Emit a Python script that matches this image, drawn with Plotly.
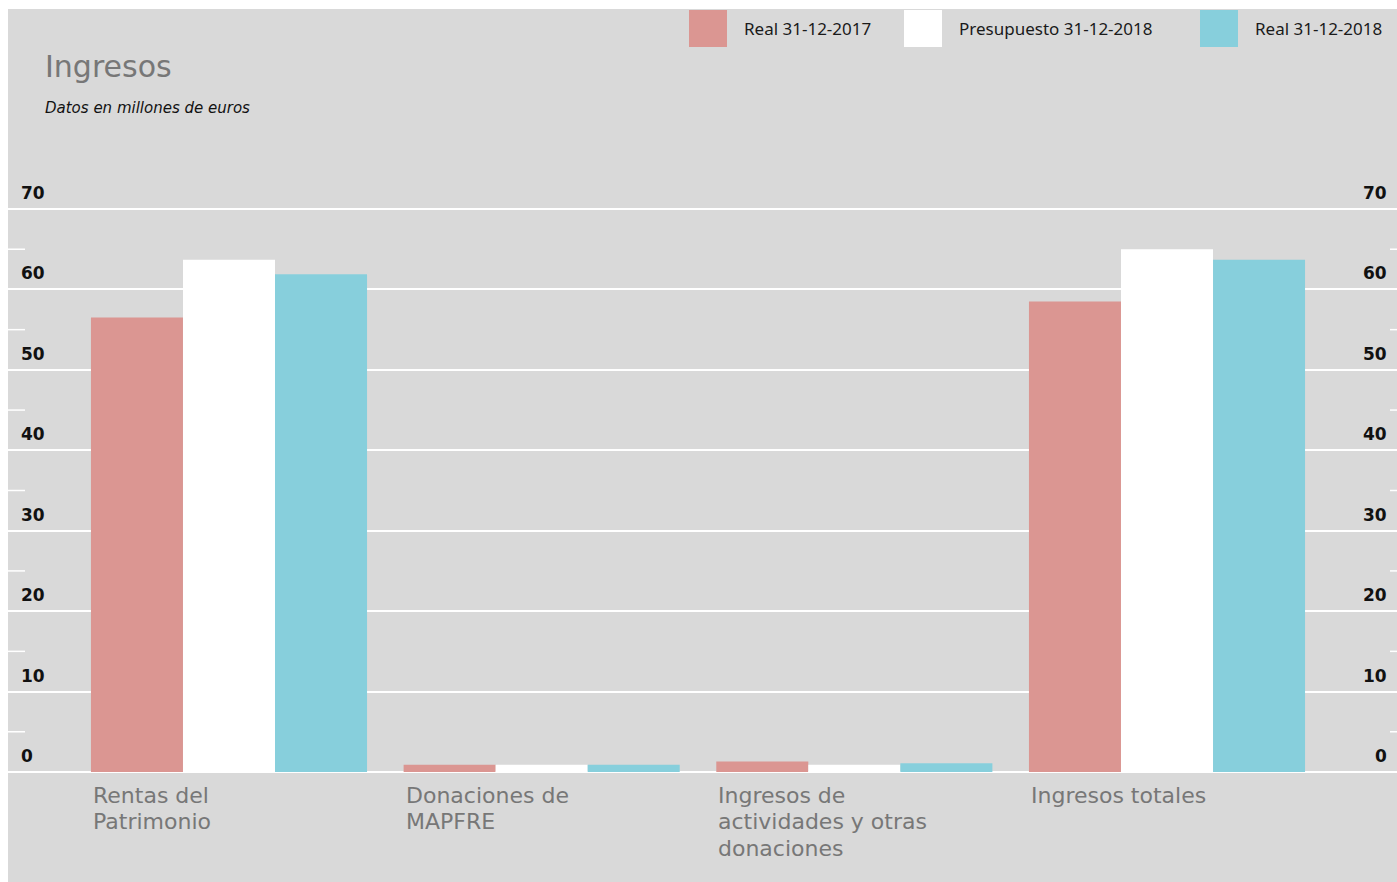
import plotly.graph_objects as go

categories = ["Rentas del<br>Patrimonio", "Donaciones de<br>MAPFRE",
              "Ingresos de<br>actividades y otras<br>donaciones", "Ingresos totales"]
series_names = ["Real 31-12-2017", "Presupuesto 31-12-2018", "Real 31-12-2018"]
real_2017 = [56.5, 0.9, 1.3, 58.5]
presupuesto_2018 = [63.7, 0.9, 0.9, 65.0]
real_2018 = [61.9, 0.9, 1.1, 63.7]
tick_values = [0, 10, 20, 30, 40, 50, 60, 70]
minor_values = [5, 15, 25, 35, 45, 55, 65]

colors = ["#db9692", "#ffffff", "#87cfdc"]
values = [real_2017, presupuesto_2018, real_2018]

FONT = "Noto Sans"
FONT2 = "DejaVu Sans"
W, H = 1397, 882
ML, MT = 8, 9
PW, PH = W - ML, H - MT

def px(x):
    return (x - ML) / PW

def py(y):
    return (H - y) / PH

x_idx = list(range(len(categories)))

fig = go.Figure()
for name, vals, col in zip(series_names, values, colors):
    fig.add_trace(go.Bar(x=x_idx, y=vals, name=name, marker=dict(color=col, line=dict(width=0)),
                         showlegend=False, hoverinfo="y+name"))

annotations = []
shapes = []

# title & subtitle
annotations.append(dict(text="Ingresos", xref="paper", yref="paper", x=px(43), y=py(66),
                        xanchor="left", yanchor="middle", showarrow=False,
                        font=dict(family=FONT2, size=30, color="#777777")))
annotations.append(dict(text="<i>Datos en millones de euros</i>", xref="paper", yref="paper",
                        x=px(43), y=py(108), xanchor="left", yanchor="middle", showarrow=False,
                        font=dict(family=FONT2, size=15, color="#111111")))

# legend
legend_x = [689, 904, 1200]
for lx, name, col in zip(legend_x, series_names, colors):
    shapes.append(dict(type="rect", xref="paper", yref="paper", x0=px(lx), x1=px(lx + 38),
                       y0=py(47), y1=py(10), fillcolor=col, line=dict(width=0), layer="above"))
    annotations.append(dict(text=name, xref="paper", yref="paper", x=px(lx + 53), y=py(28.5),
                            xanchor="left", yanchor="middle", showarrow=False,
                            font=dict(family=FONT, size=17, color="#1a1a1a")))

# tick labels (left and right)
for v in tick_values:
    annotations.append(dict(text="<b>%d</b>" % v, xref="paper", yref="y", x=px(19), y=v,
                            xanchor="left", yanchor="middle", yshift=16, showarrow=False,
                            font=dict(family=FONT2, size=17, color="#111111")))
    annotations.append(dict(text="<b>%d</b>" % v, xref="paper", yref="y", x=px(1389), y=v,
                            xanchor="right", yanchor="middle", yshift=16, showarrow=False,
                            font=dict(family=FONT2, size=17, color="#111111")))

# minor tick marks
for v in minor_values:
    shapes.append(dict(type="line", xref="paper", yref="y", x0=0, x1=px(25), y0=v, y1=v,
                       line=dict(color="white", width=1.5)))
    shapes.append(dict(type="line", xref="paper", yref="y", x0=px(1390), x1=1, y0=v, y1=v,
                       line=dict(color="white", width=1.5)))

# category labels (one annotation per line for tight line spacing)
for i, c in enumerate(categories):
    for j, line in enumerate(c.split("<br>")):
        annotations.append(dict(text=line, xref="x", yref="paper", x=i - 0.441, y=py(795 + 26.5 * j),
                                xanchor="left", yanchor="middle", align="left", showarrow=False,
                                font=dict(family=FONT2, size=22, color="#777777")))

fig.update_layout(
    width=W, height=H,
    margin=dict(l=ML, r=0, t=MT, b=0, pad=0),
    paper_bgcolor="white", plot_bgcolor="#d9d9d9",
    barmode="group", bargap=0.117, bargroupgap=0,
    font=dict(family=FONT),
    xaxis=dict(range=[-0.7068, 3.7356], showgrid=False, zeroline=False, showticklabels=False,
               ticks="", fixedrange=True),
    yaxis=dict(range=[-13.68, 94.87], tickvals=tick_values, showticklabels=False,
               showgrid=True, gridcolor="white", gridwidth=1.5, zeroline=True,
               zerolinecolor="white", zerolinewidth=2, ticks="", fixedrange=True),
    annotations=annotations, shapes=shapes,
)

fig.write_html("out.html", config={"displayModeBar": False},
               post_script="document.body.style.margin='0px';document.body.style.overflow='hidden';")
